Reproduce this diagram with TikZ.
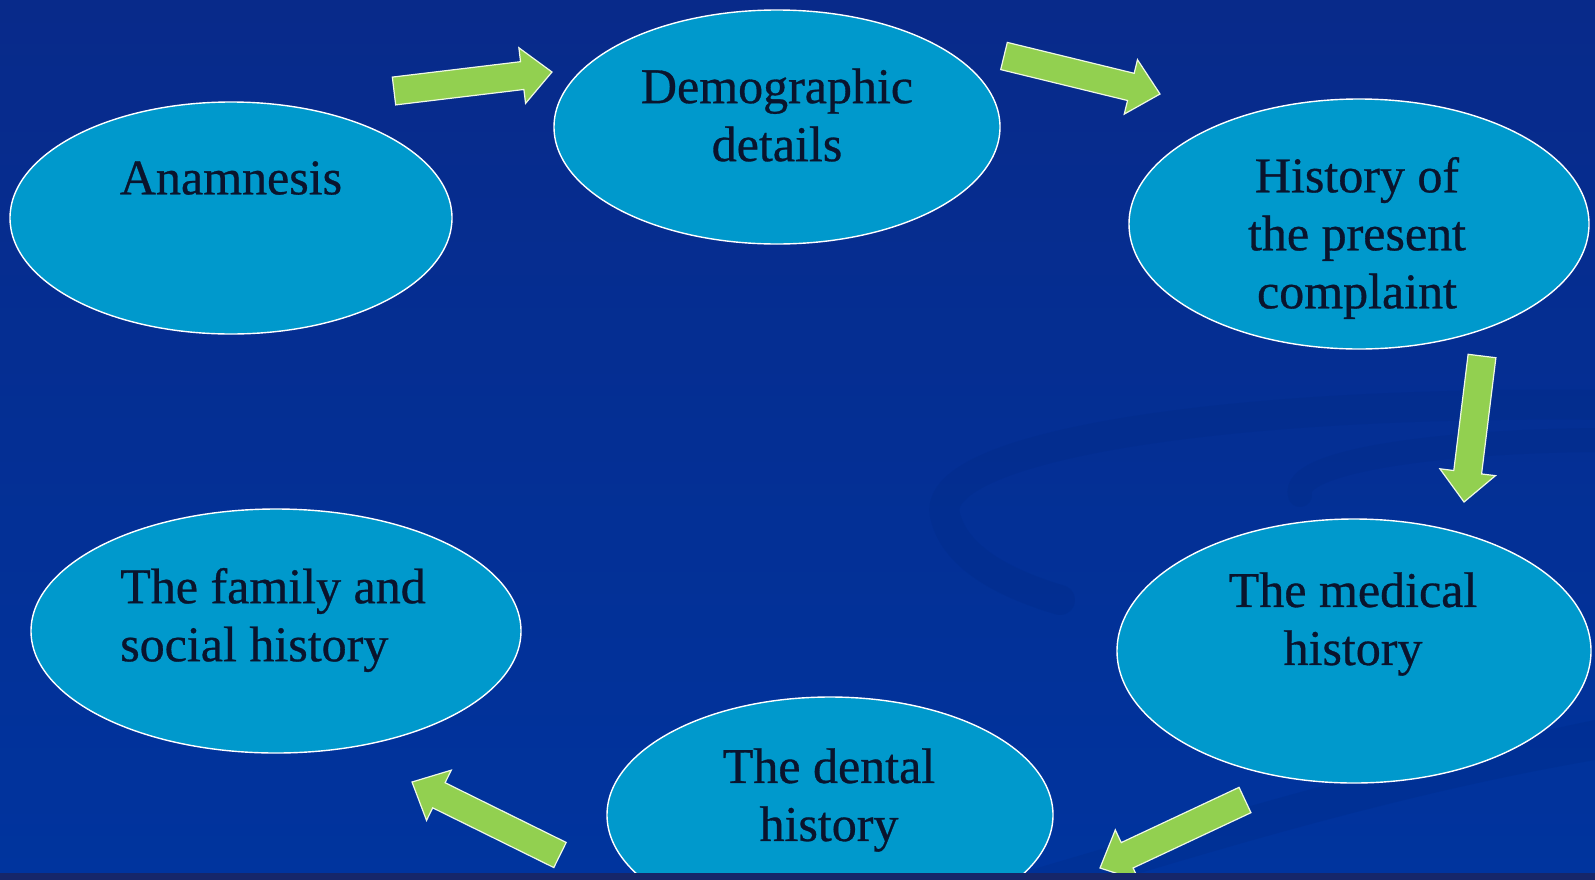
\documentclass[tikz,border=0pt]{standalone}
\usepackage{fontspec}
\setmainfont{Liberation Serif}
\newfontfamily\heavyserif[FakeBold=0.6]{Liberation Serif}
\usetikzlibrary{shapes.geometric,calc}
\definecolor{bgtop}{RGB}{8,42,138}
\definecolor{bgbot}{RGB}{0,52,158}
\definecolor{swoosh}{RGB}{0,38,125}
\definecolor{strip}{RGB}{22,38,105}
\definecolor{ellfill}{RGB}{0,153,204}
\definecolor{argreen}{RGB}{146,208,80}
\definecolor{txt}{RGB}{10,20,45}
\tikzset{
  ell/.style={ellipse, fill=ellfill, draw=white, line width=1.4pt, inner sep=0pt},
  lbl/.style={text=txt, font=\heavyserif\fontsize{50}{58}\selectfont, align=center, inner sep=0pt},
  garrowst/.style={fill=argreen, draw=white!85!argreen, line width=1.2pt, line join=miter},
}
\newcommand{\garrow}[2]{%
  \path ($(#2)!30pt!(#1)$) coordinate (nk);
  \filldraw[garrowst] ($(#1)!14pt!90:(#2)$) -- ($(nk)!14pt!90:(#2)$) -- ($(nk)!28pt!90:(#2)$) -- (#2) -- ($(nk)!28pt!-90:(#2)$) -- ($(nk)!14pt!-90:(#2)$) -- ($(#1)!14pt!-90:(#2)$) -- cycle;}
\begin{document}
\begin{tikzpicture}[x=1pt,y=-1pt]
\useasboundingbox (0,0) rectangle (1595,879);
% background
\fill[top color=bgtop, bottom color=bgbot] (0,0) rectangle (1595,879);
% faint swooshes
\begin{scope}[opacity=0.2]
\draw[swoosh, line width=30pt, line cap=round] (1610,405) .. controls (1200,400) and (930,450) .. (945,515) .. controls (955,560) and (1010,585) .. (1060,600);
\draw[swoosh, line width=24pt, line cap=round] (1610,440) .. controls (1450,440) and (1290,460) .. (1300,495);
\fill[swoosh] (1000,879) .. controls (1200,820) and (1400,760) .. (1595,720) -- (1595,760) .. controls (1420,790) and (1250,840) .. (1120,879) -- cycle;
\end{scope}
% ellipses
\node[ell, minimum width=442pt, minimum height=232pt] (ana) at (231,218) {};
\node[ell, minimum width=446pt, minimum height=234pt] (demo) at (777,127) {};
\node[ell, minimum width=460pt, minimum height=250pt] (hist) at (1359,224) {};
\node[ell, minimum width=474pt, minimum height=264pt] (med) at (1354,651) {};
\node[ell, minimum width=446pt, minimum height=236pt] (dent) at (830,815) {};
\node[ell, minimum width=490pt, minimum height=244pt] (fam) at (276,631) {};
% labels
\node[lbl] (anat) at (231,178) {Anamnesis};
\node[lbl] (demot) at (777,115) {Demographic\\details};
\node[lbl] (histt) at (1357,238) {History of\\the present\\complaint};
\node[lbl] (medt) at (1353,624) {The medical\\history};
\node[lbl] (dentt) at (829,800) {The dental\\history};
\node[lbl, align=left] (famt) at (273,620) {The family and\\social history};
% arrow end points
\coordinate (a1s) at (394,91);   \coordinate (a1e) at (552,72);
\coordinate (a2s) at (1004,56);  \coordinate (a2e) at (1160,94);
\coordinate (a3s) at (1482,356); \coordinate (a3e) at (1464,502);
\coordinate (a4s) at (1245,800); \coordinate (a4e) at (1100,868);
\coordinate (a5s) at (560,855);  \coordinate (a5e) at (412,782);
\garrow{a1s}{a1e}
\garrow{a2s}{a2e}
\garrow{a3s}{a3e}
\garrow{a4s}{a4e}
\garrow{a5s}{a5e}
% bottom strip
\fill[strip] (-5,873) rectangle (1600,890);
\end{tikzpicture}
\end{document}
